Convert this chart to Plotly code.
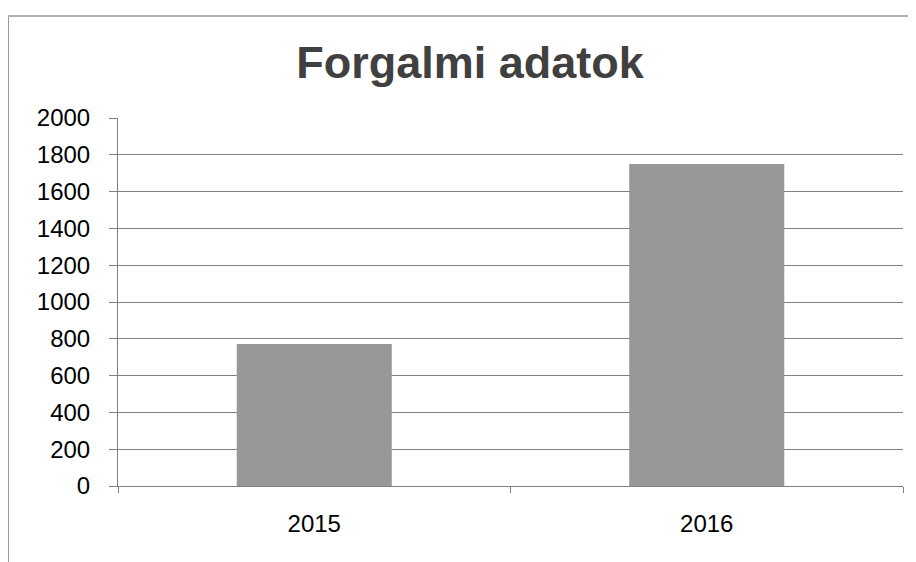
import plotly.graph_objects as go

years = ["2015", "2016"]
values = [772, 1750]
y_ticks = [0, 200, 400, 600, 800, 1000, 1200, 1400, 1600, 1800, 2000]
title_text = "Forgalmi adatok"

# page body has an 8px margin; compensate so the plot lands where the reference has it
L, R, T, B = 110, 21, 110, 84
PW, PH = 916 - L - R, 562 - T - B

fig = go.Figure()
fig.add_trace(go.Bar(
    x=years, y=values,
    marker=dict(color="#989898", line=dict(width=0)),
    width=0.395,
))

fig.update_layout(
    width=916, height=562,
    margin=dict(l=L, r=R, t=T, b=B),
    paper_bgcolor="white", plot_bgcolor="white",
    font=dict(family="Liberation Sans, Arial, sans-serif", color="#000000"),
    title=dict(text="<b>" + title_text + "</b>", x=(470 - 8) / 916, xanchor="center",
               y=1 - (62 - 8) / 562, yanchor="middle", yref="container",
               font=dict(size=45, color="#404040")),
    showlegend=False,
    bargap=0.6,
)
fig.update_yaxes(
    range=[0, 2000], tickvals=y_ticks, showgrid=True, gridcolor="#808080", gridwidth=1,
    showline=True, linecolor="#808080", linewidth=1, ticks="outside", ticklen=8,
    tickcolor="#808080", tickfont=dict(size=24, color="#000000"), zeroline=False,
    ticklabelstandoff=14,
)
fig.update_xaxes(
    showline=True, linecolor="#808080", linewidth=1, ticks="outside", ticklen=6,
    tickcolor="#808080", tickson="boundaries", tickfont=dict(size=24, color="#000000"),
    showgrid=False, ticklabelstandoff=16,
)
# chart frame (outer border)
fx = (0 - L) / PW
fy = 1 + (T - 8) / PH
fig.add_shape(type="line", xref="paper", yref="paper",
              x0=fx, x1=fx, y0=-B / PH, y1=fy,
              line=dict(color="#9a9a9a", width=2))
fig.add_shape(type="line", xref="paper", yref="paper",
              x0=fx, x1=1 + R / PW, y0=fy, y1=fy,
              line=dict(color="#b0b0b0", width=2))

fig.write_html("out.html")
